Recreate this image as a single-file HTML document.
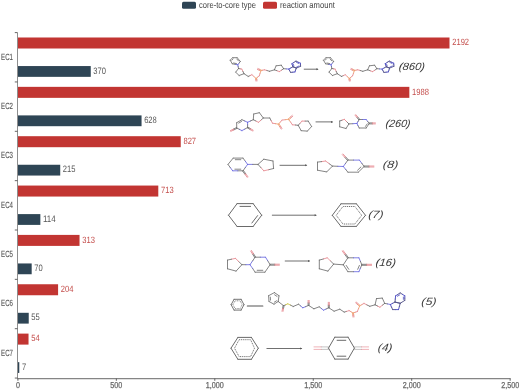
<!DOCTYPE html>
<html><head><meta charset="utf-8"><style>html,body{margin:0;padding:0;background:#fff;overflow:hidden}svg{display:block}</style></head>
<body><svg width="520" height="390" viewBox="0 0 520 390" font-family="'Liberation Sans', sans-serif" font-size="9" text-rendering="geometricPrecision">
<rect width="520" height="390" fill="#fff"/>
<g filter="url(#bt)"><line x1="17.5" y1="32.6" x2="17.5" y2="378.5" stroke="#8e8e8e" stroke-width="1"/>
<line x1="17" y1="378.6" x2="510.6" y2="378.6" stroke="#858585" stroke-width="1.3"/>
<line x1="14.8" y1="32.60" x2="17.5" y2="32.60" stroke="#555" stroke-width="0.9"/>
<line x1="14.8" y1="81.95" x2="17.5" y2="81.95" stroke="#555" stroke-width="0.9"/>
<line x1="14.8" y1="131.30" x2="17.5" y2="131.30" stroke="#555" stroke-width="0.9"/>
<line x1="14.8" y1="180.65" x2="17.5" y2="180.65" stroke="#555" stroke-width="0.9"/>
<line x1="14.8" y1="230.00" x2="17.5" y2="230.00" stroke="#555" stroke-width="0.9"/>
<line x1="14.8" y1="279.35" x2="17.5" y2="279.35" stroke="#555" stroke-width="0.9"/>
<line x1="14.8" y1="328.70" x2="17.5" y2="328.70" stroke="#555" stroke-width="0.9"/>
<line x1="14.8" y1="378.05" x2="17.5" y2="378.05" stroke="#555" stroke-width="0.9"/>
<line x1="17.90" y1="378.5" x2="17.90" y2="380.8" stroke="#555" stroke-width="0.9"/>
<text x="15.90" y="388.4" font-size="8.6" textLength="4.00" lengthAdjust="spacingAndGlyphs" fill="#666" stroke="#666" stroke-width="0.25">0</text>
<line x1="116.35" y1="378.5" x2="116.35" y2="380.8" stroke="#555" stroke-width="0.9"/>
<text x="110.35" y="388.4" font-size="8.6" textLength="12.00" lengthAdjust="spacingAndGlyphs" fill="#666" stroke="#666" stroke-width="0.25">500</text>
<line x1="214.80" y1="378.5" x2="214.80" y2="380.8" stroke="#555" stroke-width="0.9"/>
<text x="205.80" y="388.4" font-size="8.6" textLength="18.00" lengthAdjust="spacingAndGlyphs" fill="#666" stroke="#666" stroke-width="0.25">1,000</text>
<line x1="313.25" y1="378.5" x2="313.25" y2="380.8" stroke="#555" stroke-width="0.9"/>
<text x="304.25" y="388.4" font-size="8.6" textLength="18.00" lengthAdjust="spacingAndGlyphs" fill="#666" stroke="#666" stroke-width="0.25">1,500</text>
<line x1="411.70" y1="378.5" x2="411.70" y2="380.8" stroke="#555" stroke-width="0.9"/>
<text x="402.70" y="388.4" font-size="8.6" textLength="18.00" lengthAdjust="spacingAndGlyphs" fill="#666" stroke="#666" stroke-width="0.25">2,000</text>
<line x1="510.15" y1="378.5" x2="510.15" y2="380.8" stroke="#555" stroke-width="0.9"/>
<text x="501.15" y="388.4" font-size="8.6" textLength="18.00" lengthAdjust="spacingAndGlyphs" fill="#666" stroke="#666" stroke-width="0.25">2,500</text>
<rect x="18" y="37.50" width="431.50" height="11" fill="#c23531"/>
<rect x="18" y="66.05" width="72.75" height="10.8" fill="#2f4554"/>
<text x="452.20" y="45.25" font-size="9.1" textLength="16.88" lengthAdjust="spacingAndGlyphs" fill="#c44e4c">2192</text>
<text x="93.35" y="73.60" font-size="9.4" textLength="12.66" lengthAdjust="spacingAndGlyphs" fill="#555">370</text>
<text x="1.1" y="59.65" font-size="9.0" textLength="11.9" lengthAdjust="spacingAndGlyphs" fill="#555" stroke="#555" stroke-width="0.12">EC1</text>
<rect x="18" y="86.85" width="391.34" height="11" fill="#c23531"/>
<rect x="18" y="115.40" width="123.55" height="10.8" fill="#2f4554"/>
<text x="412.04" y="94.60" font-size="9.1" textLength="16.88" lengthAdjust="spacingAndGlyphs" fill="#c44e4c">1988</text>
<text x="144.15" y="122.95" font-size="9.4" textLength="12.66" lengthAdjust="spacingAndGlyphs" fill="#555">628</text>
<text x="1.1" y="109.00" font-size="9.0" textLength="11.9" lengthAdjust="spacingAndGlyphs" fill="#555" stroke="#555" stroke-width="0.12">EC2</text>
<rect x="18" y="136.20" width="162.74" height="11" fill="#c23531"/>
<rect x="18" y="164.75" width="42.23" height="10.8" fill="#2f4554"/>
<text x="183.44" y="143.95" font-size="9.1" textLength="12.66" lengthAdjust="spacingAndGlyphs" fill="#c44e4c">827</text>
<text x="62.83" y="172.30" font-size="9.4" textLength="12.66" lengthAdjust="spacingAndGlyphs" fill="#555">215</text>
<text x="1.1" y="158.35" font-size="9.0" textLength="11.9" lengthAdjust="spacingAndGlyphs" fill="#555" stroke="#555" stroke-width="0.12">EC3</text>
<rect x="18" y="185.55" width="140.29" height="11" fill="#c23531"/>
<rect x="18" y="214.10" width="22.35" height="10.8" fill="#2f4554"/>
<text x="160.99" y="193.30" font-size="9.1" textLength="12.66" lengthAdjust="spacingAndGlyphs" fill="#c44e4c">713</text>
<text x="42.95" y="221.65" font-size="9.4" textLength="12.66" lengthAdjust="spacingAndGlyphs" fill="#555">114</text>
<text x="1.1" y="207.70" font-size="9.0" textLength="11.9" lengthAdjust="spacingAndGlyphs" fill="#555" stroke="#555" stroke-width="0.12">EC4</text>
<rect x="18" y="234.90" width="61.53" height="11" fill="#c23531"/>
<rect x="18" y="263.45" width="13.68" height="10.8" fill="#2f4554"/>
<text x="82.23" y="242.65" font-size="9.1" textLength="12.66" lengthAdjust="spacingAndGlyphs" fill="#c44e4c">313</text>
<text x="34.28" y="271.00" font-size="9.4" textLength="8.44" lengthAdjust="spacingAndGlyphs" fill="#555">70</text>
<text x="1.1" y="257.05" font-size="9.0" textLength="11.9" lengthAdjust="spacingAndGlyphs" fill="#555" stroke="#555" stroke-width="0.12">EC5</text>
<rect x="18" y="284.25" width="40.07" height="11" fill="#c23531"/>
<rect x="18" y="312.80" width="10.73" height="10.8" fill="#2f4554"/>
<text x="60.77" y="292.00" font-size="9.1" textLength="12.66" lengthAdjust="spacingAndGlyphs" fill="#c44e4c">204</text>
<text x="31.33" y="320.35" font-size="9.4" textLength="8.44" lengthAdjust="spacingAndGlyphs" fill="#555">55</text>
<text x="1.1" y="306.40" font-size="9.0" textLength="11.9" lengthAdjust="spacingAndGlyphs" fill="#555" stroke="#555" stroke-width="0.12">EC6</text>
<rect x="18" y="333.60" width="10.53" height="11" fill="#c23531"/>
<rect x="18" y="362.15" width="1.28" height="10.8" fill="#2f4554"/>
<text x="31.23" y="341.35" font-size="9.1" textLength="8.44" lengthAdjust="spacingAndGlyphs" fill="#c44e4c">54</text>
<text x="21.88" y="369.70" font-size="9.4" textLength="4.22" lengthAdjust="spacingAndGlyphs" fill="#555">7</text>
<text x="1.1" y="355.75" font-size="9.0" textLength="11.9" lengthAdjust="spacingAndGlyphs" fill="#555" stroke="#555" stroke-width="0.12">EC7</text>
<rect x="182" y="1.7" width="14" height="7.0" rx="1.5" fill="#2f4554"/>
<text x="199" y="7.6" textLength="57" lengthAdjust="spacingAndGlyphs" fill="#444">core-to-core type</text>
<rect x="263" y="1.7" width="14" height="7.0" rx="1.5" fill="#c23531"/>
<text x="280" y="7.6" textLength="54.8" lengthAdjust="spacingAndGlyphs" fill="#444">reaction amount</text></g>
<defs><filter id="bt" x="0" y="0" width="100%" height="100%" filterUnits="userSpaceOnUse"><feGaussianBlur stdDeviation="0.25"/></filter><filter id="bl" x="-5%" y="-5%" width="110%" height="110%"><feGaussianBlur stdDeviation="0.3"/></filter></defs>
<g filter="url(#bl)"><line x1="230.2" y1="60.2" x2="232.6" y2="57.7" stroke="#666666" stroke-width="0.8" stroke-linecap="round"/>
<line x1="232.6" y1="57.7" x2="237.2" y2="57.7" stroke="#666666" stroke-width="0.8" stroke-linecap="round"/>
<line x1="237.2" y1="57.7" x2="240.3" y2="61.4" stroke="#666666" stroke-width="0.8" stroke-linecap="round"/>
<line x1="240.3" y1="61.4" x2="239.1" y2="63.1" stroke="#666666" stroke-width="0.8" stroke-linecap="round"/>
<line x1="239.1" y1="63.1" x2="237.8" y2="64.8" stroke="#6060dd" stroke-width="0.8" stroke-linecap="round"/>
<line x1="237.8" y1="64.8" x2="235.1" y2="64.3" stroke="#6060dd" stroke-width="0.8" stroke-linecap="round"/>
<line x1="235.1" y1="64.3" x2="232.3" y2="63.8" stroke="#666666" stroke-width="0.8" stroke-linecap="round"/>
<line x1="232.3" y1="63.8" x2="230.2" y2="60.2" stroke="#666666" stroke-width="0.8" stroke-linecap="round"/>
<line x1="231.9" y1="60.2" x2="233.1" y2="58.9" stroke="#666666" stroke-width="0.8" stroke-linecap="round"/>
<line x1="236.8" y1="59.0" x2="238.5" y2="60.9" stroke="#666666" stroke-width="0.8" stroke-linecap="round"/>
<line x1="236.5" y1="63.6" x2="233.6" y2="63.0" stroke="#666666" stroke-width="0.8" stroke-linecap="round"/>
<line x1="237.8" y1="64.8" x2="238.2" y2="66.7" stroke="#6060dd" stroke-width="0.8" stroke-linecap="round"/>
<line x1="238.2" y1="66.7" x2="238.5" y2="68.5" stroke="#666666" stroke-width="0.8" stroke-linecap="round"/>
<line x1="238.5" y1="68.5" x2="240.2" y2="68.8" stroke="#666666" stroke-width="0.8" stroke-linecap="round"/>
<line x1="240.2" y1="68.8" x2="241.8" y2="69.1" stroke="#e48088" stroke-width="0.8" stroke-linecap="round"/>
<line x1="241.8" y1="69.1" x2="242.9" y2="71.4" stroke="#e48088" stroke-width="0.8" stroke-linecap="round"/>
<line x1="242.9" y1="71.4" x2="244.0" y2="73.7" stroke="#666666" stroke-width="0.8" stroke-linecap="round"/>
<line x1="244.0" y1="73.7" x2="239.1" y2="75.5" stroke="#666666" stroke-width="0.8" stroke-linecap="round"/>
<line x1="239.1" y1="75.5" x2="235.7" y2="72.2" stroke="#666666" stroke-width="0.8" stroke-linecap="round"/>
<line x1="235.7" y1="72.2" x2="238.5" y2="68.5" stroke="#666666" stroke-width="0.8" stroke-linecap="round"/>
<line x1="244.0" y1="73.7" x2="248.2" y2="76.4" stroke="#666666" stroke-width="0.8" stroke-linecap="round"/>
<line x1="248.2" y1="76.4" x2="250.1" y2="75.6" stroke="#666666" stroke-width="0.8" stroke-linecap="round"/>
<line x1="250.1" y1="75.6" x2="251.9" y2="74.7" stroke="#e48088" stroke-width="0.8" stroke-linecap="round"/>
<line x1="251.9" y1="74.7" x2="254.0" y2="76.6" stroke="#e48088" stroke-width="0.8" stroke-linecap="round"/>
<line x1="254.0" y1="76.6" x2="256.1" y2="78.4" stroke="#ee9a6a" stroke-width="0.8" stroke-linecap="round"/>
<line x1="255.6" y1="78.5" x2="255.8" y2="79.8" stroke="#ee9a6a" stroke-width="0.8" stroke-linecap="round"/>
<line x1="255.8" y1="79.8" x2="256.0" y2="81.1" stroke="#e48088" stroke-width="0.8" stroke-linecap="round"/>
<line x1="256.6" y1="78.3" x2="256.8" y2="79.6" stroke="#ee9a6a" stroke-width="0.8" stroke-linecap="round"/>
<line x1="256.8" y1="79.6" x2="257.0" y2="80.9" stroke="#e48088" stroke-width="0.8" stroke-linecap="round"/>
<line x1="256.1" y1="78.4" x2="257.7" y2="77.1" stroke="#ee9a6a" stroke-width="0.8" stroke-linecap="round"/>
<line x1="257.7" y1="77.1" x2="259.3" y2="75.8" stroke="#e48088" stroke-width="0.8" stroke-linecap="round"/>
<line x1="259.3" y1="75.8" x2="260.1" y2="73.2" stroke="#e48088" stroke-width="0.8" stroke-linecap="round"/>
<line x1="260.1" y1="73.2" x2="261.0" y2="70.5" stroke="#ee9a6a" stroke-width="0.8" stroke-linecap="round"/>
<line x1="261.2" y1="70.0" x2="259.5" y2="69.3" stroke="#ee9a6a" stroke-width="0.8" stroke-linecap="round"/>
<line x1="259.5" y1="69.3" x2="257.8" y2="68.5" stroke="#e48088" stroke-width="0.8" stroke-linecap="round"/>
<line x1="260.8" y1="71.0" x2="259.1" y2="70.2" stroke="#ee9a6a" stroke-width="0.8" stroke-linecap="round"/>
<line x1="259.1" y1="70.2" x2="257.4" y2="69.5" stroke="#e48088" stroke-width="0.8" stroke-linecap="round"/>
<line x1="261.0" y1="70.5" x2="262.7" y2="70.2" stroke="#ee9a6a" stroke-width="0.8" stroke-linecap="round"/>
<line x1="262.7" y1="70.2" x2="264.4" y2="69.8" stroke="#e48088" stroke-width="0.8" stroke-linecap="round"/>
<line x1="264.4" y1="69.8" x2="266.9" y2="70.5" stroke="#e48088" stroke-width="0.8" stroke-linecap="round"/>
<line x1="266.9" y1="70.5" x2="269.5" y2="71.3" stroke="#666666" stroke-width="0.8" stroke-linecap="round"/>
<line x1="269.5" y1="71.3" x2="274.4" y2="69.8" stroke="#666666" stroke-width="0.8" stroke-linecap="round"/>
<line x1="274.4" y1="69.8" x2="276.1" y2="65.8" stroke="#666666" stroke-width="0.8" stroke-linecap="round"/>
<line x1="276.1" y1="65.8" x2="281.3" y2="65.2" stroke="#666666" stroke-width="0.8" stroke-linecap="round"/>
<line x1="281.3" y1="65.2" x2="283.6" y2="68.7" stroke="#666666" stroke-width="0.8" stroke-linecap="round"/>
<line x1="283.6" y1="68.7" x2="281.5" y2="70.2" stroke="#666666" stroke-width="0.8" stroke-linecap="round"/>
<line x1="281.5" y1="70.2" x2="279.3" y2="71.6" stroke="#e48088" stroke-width="0.8" stroke-linecap="round"/>
<line x1="279.3" y1="71.6" x2="276.9" y2="70.7" stroke="#e48088" stroke-width="0.8" stroke-linecap="round"/>
<line x1="276.9" y1="70.7" x2="274.4" y2="69.8" stroke="#666666" stroke-width="0.8" stroke-linecap="round"/>
<line x1="283.6" y1="68.7" x2="286.2" y2="68.9" stroke="#666666" stroke-width="0.8" stroke-linecap="round"/>
<line x1="286.2" y1="68.9" x2="288.8" y2="69.1" stroke="#6060dd" stroke-width="0.8" stroke-linecap="round"/>
<line x1="291.9" y1="63.7" x2="293.9" y2="62.4" stroke="#4f4fc4" stroke-width="0.95" stroke-linecap="round"/>
<line x1="293.9" y1="62.4" x2="296.0" y2="61.1" stroke="#55558a" stroke-width="0.95" stroke-linecap="round"/>
<line x1="296.0" y1="61.1" x2="298.2" y2="62.2" stroke="#55558a" stroke-width="0.95" stroke-linecap="round"/>
<line x1="298.2" y1="62.2" x2="300.4" y2="63.2" stroke="#4f4fc4" stroke-width="0.95" stroke-linecap="round"/>
<line x1="300.4" y1="63.2" x2="300.5" y2="64.8" stroke="#4f4fc4" stroke-width="0.95" stroke-linecap="round"/>
<line x1="300.5" y1="64.8" x2="300.6" y2="66.3" stroke="#55558a" stroke-width="0.95" stroke-linecap="round"/>
<line x1="300.6" y1="66.3" x2="296.3" y2="68.1" stroke="#55558a" stroke-width="0.95" stroke-linecap="round"/>
<line x1="296.3" y1="68.1" x2="293.0" y2="66.8" stroke="#55558a" stroke-width="0.95" stroke-linecap="round"/>
<line x1="293.0" y1="66.8" x2="292.4" y2="65.2" stroke="#55558a" stroke-width="0.95" stroke-linecap="round"/>
<line x1="292.4" y1="65.2" x2="291.9" y2="63.7" stroke="#4f4fc4" stroke-width="0.95" stroke-linecap="round"/>
<line x1="296.5" y1="62.4" x2="298.8" y2="63.5" stroke="#4f4fc4" stroke-width="0.8" stroke-linecap="round"/>
<line x1="299.0" y1="66.0" x2="296.7" y2="67.0" stroke="#4f4fc4" stroke-width="0.8" stroke-linecap="round"/>
<line x1="293.9" y1="66.0" x2="293.3" y2="64.3" stroke="#4f4fc4" stroke-width="0.8" stroke-linecap="round"/>
<line x1="288.8" y1="69.1" x2="289.7" y2="70.8" stroke="#4f4fc4" stroke-width="0.95" stroke-linecap="round"/>
<line x1="289.7" y1="70.8" x2="290.6" y2="72.4" stroke="#55558a" stroke-width="0.95" stroke-linecap="round"/>
<line x1="290.6" y1="72.4" x2="292.8" y2="72.2" stroke="#55558a" stroke-width="0.95" stroke-linecap="round"/>
<line x1="292.8" y1="72.2" x2="295.0" y2="71.9" stroke="#4f4fc4" stroke-width="0.95" stroke-linecap="round"/>
<line x1="295.0" y1="71.9" x2="295.6" y2="70.0" stroke="#4f4fc4" stroke-width="0.95" stroke-linecap="round"/>
<line x1="295.6" y1="70.0" x2="296.3" y2="68.1" stroke="#55558a" stroke-width="0.95" stroke-linecap="round"/>
<line x1="296.3" y1="68.1" x2="293.0" y2="66.8" stroke="#55558a" stroke-width="0.95" stroke-linecap="round"/>
<line x1="293.0" y1="66.8" x2="290.9" y2="67.9" stroke="#55558a" stroke-width="0.95" stroke-linecap="round"/>
<line x1="290.9" y1="67.9" x2="288.8" y2="69.1" stroke="#4f4fc4" stroke-width="0.95" stroke-linecap="round"/>
<line x1="304.2" y1="69.2" x2="317.6" y2="69.2" stroke="#555" stroke-width="0.85" stroke-linecap="round"/>
<path d="M318.6,69.2 L316.4,68.2 L316.4,70.2 Z" fill="#555"/>
<line x1="323.5" y1="60.2" x2="325.9" y2="57.7" stroke="#666666" stroke-width="0.8" stroke-linecap="round"/>
<line x1="325.9" y1="57.7" x2="330.5" y2="57.7" stroke="#666666" stroke-width="0.8" stroke-linecap="round"/>
<line x1="330.5" y1="57.7" x2="333.6" y2="61.4" stroke="#666666" stroke-width="0.8" stroke-linecap="round"/>
<line x1="333.6" y1="61.4" x2="332.4" y2="63.1" stroke="#666666" stroke-width="0.8" stroke-linecap="round"/>
<line x1="332.4" y1="63.1" x2="331.1" y2="64.8" stroke="#6060dd" stroke-width="0.8" stroke-linecap="round"/>
<line x1="331.1" y1="64.8" x2="328.4" y2="64.3" stroke="#6060dd" stroke-width="0.8" stroke-linecap="round"/>
<line x1="328.4" y1="64.3" x2="325.6" y2="63.8" stroke="#666666" stroke-width="0.8" stroke-linecap="round"/>
<line x1="325.6" y1="63.8" x2="323.5" y2="60.2" stroke="#666666" stroke-width="0.8" stroke-linecap="round"/>
<line x1="325.2" y1="60.2" x2="326.4" y2="58.9" stroke="#666666" stroke-width="0.8" stroke-linecap="round"/>
<line x1="330.1" y1="59.0" x2="331.8" y2="60.9" stroke="#666666" stroke-width="0.8" stroke-linecap="round"/>
<line x1="329.8" y1="63.6" x2="326.9" y2="63.0" stroke="#666666" stroke-width="0.8" stroke-linecap="round"/>
<line x1="331.1" y1="64.8" x2="331.5" y2="66.7" stroke="#6060dd" stroke-width="0.8" stroke-linecap="round"/>
<line x1="331.5" y1="66.7" x2="331.8" y2="68.5" stroke="#666666" stroke-width="0.8" stroke-linecap="round"/>
<line x1="331.8" y1="68.5" x2="333.5" y2="68.8" stroke="#666666" stroke-width="0.8" stroke-linecap="round"/>
<line x1="333.5" y1="68.8" x2="335.1" y2="69.1" stroke="#e48088" stroke-width="0.8" stroke-linecap="round"/>
<line x1="335.1" y1="69.1" x2="336.2" y2="71.4" stroke="#e48088" stroke-width="0.8" stroke-linecap="round"/>
<line x1="336.2" y1="71.4" x2="337.3" y2="73.7" stroke="#666666" stroke-width="0.8" stroke-linecap="round"/>
<line x1="337.3" y1="73.7" x2="332.4" y2="75.5" stroke="#666666" stroke-width="0.8" stroke-linecap="round"/>
<line x1="332.4" y1="75.5" x2="329.0" y2="72.2" stroke="#666666" stroke-width="0.8" stroke-linecap="round"/>
<line x1="329.0" y1="72.2" x2="331.8" y2="68.5" stroke="#666666" stroke-width="0.8" stroke-linecap="round"/>
<line x1="337.3" y1="73.7" x2="341.5" y2="76.4" stroke="#666666" stroke-width="0.8" stroke-linecap="round"/>
<line x1="341.5" y1="76.4" x2="343.4" y2="75.6" stroke="#666666" stroke-width="0.8" stroke-linecap="round"/>
<line x1="343.4" y1="75.6" x2="345.2" y2="74.7" stroke="#e48088" stroke-width="0.8" stroke-linecap="round"/>
<line x1="345.2" y1="74.7" x2="347.3" y2="76.6" stroke="#e48088" stroke-width="0.8" stroke-linecap="round"/>
<line x1="347.3" y1="76.6" x2="349.4" y2="78.4" stroke="#ee9a6a" stroke-width="0.8" stroke-linecap="round"/>
<line x1="348.9" y1="78.5" x2="349.1" y2="79.8" stroke="#ee9a6a" stroke-width="0.8" stroke-linecap="round"/>
<line x1="349.1" y1="79.8" x2="349.3" y2="81.1" stroke="#e48088" stroke-width="0.8" stroke-linecap="round"/>
<line x1="349.9" y1="78.3" x2="350.1" y2="79.6" stroke="#ee9a6a" stroke-width="0.8" stroke-linecap="round"/>
<line x1="350.1" y1="79.6" x2="350.3" y2="80.9" stroke="#e48088" stroke-width="0.8" stroke-linecap="round"/>
<line x1="349.4" y1="78.4" x2="351.0" y2="77.1" stroke="#ee9a6a" stroke-width="0.8" stroke-linecap="round"/>
<line x1="351.0" y1="77.1" x2="352.6" y2="75.8" stroke="#e48088" stroke-width="0.8" stroke-linecap="round"/>
<line x1="352.6" y1="75.8" x2="353.5" y2="73.2" stroke="#e48088" stroke-width="0.8" stroke-linecap="round"/>
<line x1="353.5" y1="73.2" x2="354.3" y2="70.5" stroke="#ee9a6a" stroke-width="0.8" stroke-linecap="round"/>
<line x1="354.5" y1="70.0" x2="352.8" y2="69.3" stroke="#ee9a6a" stroke-width="0.8" stroke-linecap="round"/>
<line x1="352.8" y1="69.3" x2="351.1" y2="68.5" stroke="#e48088" stroke-width="0.8" stroke-linecap="round"/>
<line x1="354.1" y1="71.0" x2="352.4" y2="70.2" stroke="#ee9a6a" stroke-width="0.8" stroke-linecap="round"/>
<line x1="352.4" y1="70.2" x2="350.7" y2="69.5" stroke="#e48088" stroke-width="0.8" stroke-linecap="round"/>
<line x1="354.3" y1="70.5" x2="356.0" y2="70.2" stroke="#ee9a6a" stroke-width="0.8" stroke-linecap="round"/>
<line x1="356.0" y1="70.2" x2="357.7" y2="69.8" stroke="#e48088" stroke-width="0.8" stroke-linecap="round"/>
<line x1="357.7" y1="69.8" x2="360.2" y2="70.5" stroke="#e48088" stroke-width="0.8" stroke-linecap="round"/>
<line x1="360.2" y1="70.5" x2="362.8" y2="71.3" stroke="#666666" stroke-width="0.8" stroke-linecap="round"/>
<line x1="362.8" y1="71.3" x2="367.7" y2="69.8" stroke="#666666" stroke-width="0.8" stroke-linecap="round"/>
<line x1="367.7" y1="69.8" x2="369.4" y2="65.8" stroke="#666666" stroke-width="0.8" stroke-linecap="round"/>
<line x1="369.4" y1="65.8" x2="374.6" y2="65.2" stroke="#666666" stroke-width="0.8" stroke-linecap="round"/>
<line x1="374.6" y1="65.2" x2="376.9" y2="68.7" stroke="#666666" stroke-width="0.8" stroke-linecap="round"/>
<line x1="376.9" y1="68.7" x2="374.8" y2="70.2" stroke="#666666" stroke-width="0.8" stroke-linecap="round"/>
<line x1="374.8" y1="70.2" x2="372.6" y2="71.6" stroke="#e48088" stroke-width="0.8" stroke-linecap="round"/>
<line x1="372.6" y1="71.6" x2="370.1" y2="70.7" stroke="#e48088" stroke-width="0.8" stroke-linecap="round"/>
<line x1="370.1" y1="70.7" x2="367.7" y2="69.8" stroke="#666666" stroke-width="0.8" stroke-linecap="round"/>
<line x1="376.9" y1="68.7" x2="379.5" y2="68.9" stroke="#666666" stroke-width="0.8" stroke-linecap="round"/>
<line x1="379.5" y1="68.9" x2="382.1" y2="69.1" stroke="#6060dd" stroke-width="0.8" stroke-linecap="round"/>
<line x1="385.2" y1="63.7" x2="387.2" y2="62.4" stroke="#4f4fc4" stroke-width="0.95" stroke-linecap="round"/>
<line x1="387.2" y1="62.4" x2="389.3" y2="61.1" stroke="#55558a" stroke-width="0.95" stroke-linecap="round"/>
<line x1="389.3" y1="61.1" x2="391.5" y2="62.2" stroke="#55558a" stroke-width="0.95" stroke-linecap="round"/>
<line x1="391.5" y1="62.2" x2="393.7" y2="63.2" stroke="#4f4fc4" stroke-width="0.95" stroke-linecap="round"/>
<line x1="393.7" y1="63.2" x2="393.8" y2="64.8" stroke="#4f4fc4" stroke-width="0.95" stroke-linecap="round"/>
<line x1="393.8" y1="64.8" x2="393.9" y2="66.3" stroke="#55558a" stroke-width="0.95" stroke-linecap="round"/>
<line x1="393.9" y1="66.3" x2="389.6" y2="68.1" stroke="#55558a" stroke-width="0.95" stroke-linecap="round"/>
<line x1="389.6" y1="68.1" x2="386.3" y2="66.8" stroke="#55558a" stroke-width="0.95" stroke-linecap="round"/>
<line x1="386.3" y1="66.8" x2="385.8" y2="65.2" stroke="#55558a" stroke-width="0.95" stroke-linecap="round"/>
<line x1="385.8" y1="65.2" x2="385.2" y2="63.7" stroke="#4f4fc4" stroke-width="0.95" stroke-linecap="round"/>
<line x1="389.8" y1="62.4" x2="392.1" y2="63.5" stroke="#4f4fc4" stroke-width="0.8" stroke-linecap="round"/>
<line x1="392.3" y1="66.0" x2="390.0" y2="67.0" stroke="#4f4fc4" stroke-width="0.8" stroke-linecap="round"/>
<line x1="387.2" y1="66.0" x2="386.6" y2="64.3" stroke="#4f4fc4" stroke-width="0.8" stroke-linecap="round"/>
<line x1="382.1" y1="69.1" x2="383.0" y2="70.8" stroke="#4f4fc4" stroke-width="0.95" stroke-linecap="round"/>
<line x1="383.0" y1="70.8" x2="383.9" y2="72.4" stroke="#55558a" stroke-width="0.95" stroke-linecap="round"/>
<line x1="383.9" y1="72.4" x2="386.1" y2="72.2" stroke="#55558a" stroke-width="0.95" stroke-linecap="round"/>
<line x1="386.1" y1="72.2" x2="388.3" y2="71.9" stroke="#4f4fc4" stroke-width="0.95" stroke-linecap="round"/>
<line x1="388.3" y1="71.9" x2="389.0" y2="70.0" stroke="#4f4fc4" stroke-width="0.95" stroke-linecap="round"/>
<line x1="389.0" y1="70.0" x2="389.6" y2="68.1" stroke="#55558a" stroke-width="0.95" stroke-linecap="round"/>
<line x1="389.6" y1="68.1" x2="386.3" y2="66.8" stroke="#55558a" stroke-width="0.95" stroke-linecap="round"/>
<line x1="386.3" y1="66.8" x2="384.2" y2="67.9" stroke="#55558a" stroke-width="0.95" stroke-linecap="round"/>
<line x1="384.2" y1="67.9" x2="382.1" y2="69.1" stroke="#4f4fc4" stroke-width="0.95" stroke-linecap="round"/>
<line x1="241.9" y1="119.7" x2="244.8" y2="121.0" stroke="#666666" stroke-width="0.8" stroke-linecap="round"/>
<line x1="244.8" y1="121.0" x2="247.6" y2="122.3" stroke="#6060dd" stroke-width="0.8" stroke-linecap="round"/>
<line x1="247.6" y1="122.3" x2="247.6" y2="124.9" stroke="#6060dd" stroke-width="0.8" stroke-linecap="round"/>
<line x1="247.6" y1="124.9" x2="247.6" y2="127.5" stroke="#666666" stroke-width="0.8" stroke-linecap="round"/>
<line x1="247.6" y1="127.5" x2="244.8" y2="129.1" stroke="#666666" stroke-width="0.8" stroke-linecap="round"/>
<line x1="244.8" y1="129.1" x2="241.9" y2="130.6" stroke="#6060dd" stroke-width="0.8" stroke-linecap="round"/>
<line x1="241.9" y1="130.6" x2="239.3" y2="129.3" stroke="#6060dd" stroke-width="0.8" stroke-linecap="round"/>
<line x1="239.3" y1="129.3" x2="236.7" y2="128.0" stroke="#666666" stroke-width="0.8" stroke-linecap="round"/>
<line x1="236.7" y1="128.0" x2="236.7" y2="122.7" stroke="#666666" stroke-width="0.8" stroke-linecap="round"/>
<line x1="236.7" y1="122.7" x2="241.9" y2="119.7" stroke="#666666" stroke-width="0.8" stroke-linecap="round"/>
<line x1="238.7" y1="123.1" x2="241.5" y2="121.5" stroke="#666666" stroke-width="0.8" stroke-linecap="round"/>
<line x1="236.5" y1="127.6" x2="233.4" y2="129.1" stroke="#666666" stroke-width="0.8" stroke-linecap="round"/>
<line x1="233.4" y1="129.1" x2="230.4" y2="130.6" stroke="#e48088" stroke-width="0.8" stroke-linecap="round"/>
<line x1="236.9" y1="128.4" x2="233.9" y2="129.9" stroke="#666666" stroke-width="0.8" stroke-linecap="round"/>
<line x1="233.9" y1="129.9" x2="230.8" y2="131.4" stroke="#e48088" stroke-width="0.8" stroke-linecap="round"/>
<line x1="247.4" y1="127.9" x2="250.1" y2="129.5" stroke="#666666" stroke-width="0.8" stroke-linecap="round"/>
<line x1="250.1" y1="129.5" x2="252.8" y2="131.0" stroke="#e48088" stroke-width="0.8" stroke-linecap="round"/>
<line x1="247.8" y1="127.1" x2="250.5" y2="128.6" stroke="#666666" stroke-width="0.8" stroke-linecap="round"/>
<line x1="250.5" y1="128.6" x2="253.2" y2="130.2" stroke="#e48088" stroke-width="0.8" stroke-linecap="round"/>
<line x1="247.6" y1="122.3" x2="250.4" y2="121.0" stroke="#6060dd" stroke-width="0.8" stroke-linecap="round"/>
<line x1="250.4" y1="121.0" x2="253.3" y2="119.7" stroke="#666666" stroke-width="0.8" stroke-linecap="round"/>
<line x1="253.3" y1="119.7" x2="253.7" y2="114.0" stroke="#666666" stroke-width="0.8" stroke-linecap="round"/>
<line x1="253.7" y1="114.0" x2="259.4" y2="112.7" stroke="#666666" stroke-width="0.8" stroke-linecap="round"/>
<line x1="259.4" y1="112.7" x2="263.3" y2="118.0" stroke="#666666" stroke-width="0.8" stroke-linecap="round"/>
<line x1="263.3" y1="118.0" x2="260.9" y2="120.2" stroke="#666666" stroke-width="0.8" stroke-linecap="round"/>
<line x1="260.9" y1="120.2" x2="258.5" y2="122.3" stroke="#e48088" stroke-width="0.8" stroke-linecap="round"/>
<line x1="258.5" y1="122.3" x2="255.9" y2="121.0" stroke="#e48088" stroke-width="0.8" stroke-linecap="round"/>
<line x1="255.9" y1="121.0" x2="253.3" y2="119.7" stroke="#666666" stroke-width="0.8" stroke-linecap="round"/>
<line x1="263.3" y1="118.0" x2="269.8" y2="118.0" stroke="#666666" stroke-width="0.8" stroke-linecap="round"/>
<line x1="269.8" y1="118.0" x2="271.1" y2="120.6" stroke="#666666" stroke-width="0.8" stroke-linecap="round"/>
<line x1="271.1" y1="120.6" x2="272.5" y2="123.2" stroke="#e48088" stroke-width="0.8" stroke-linecap="round"/>
<line x1="272.5" y1="123.2" x2="275.6" y2="123.7" stroke="#e48088" stroke-width="0.8" stroke-linecap="round"/>
<line x1="275.6" y1="123.7" x2="278.6" y2="124.1" stroke="#ee9a6a" stroke-width="0.8" stroke-linecap="round"/>
<line x1="278.2" y1="124.4" x2="279.7" y2="126.7" stroke="#ee9a6a" stroke-width="0.8" stroke-linecap="round"/>
<line x1="279.7" y1="126.7" x2="281.2" y2="129.1" stroke="#e48088" stroke-width="0.8" stroke-linecap="round"/>
<line x1="279.0" y1="123.8" x2="280.5" y2="126.2" stroke="#ee9a6a" stroke-width="0.8" stroke-linecap="round"/>
<line x1="280.5" y1="126.2" x2="282.0" y2="128.5" stroke="#e48088" stroke-width="0.8" stroke-linecap="round"/>
<line x1="278.6" y1="124.1" x2="280.3" y2="122.1" stroke="#ee9a6a" stroke-width="0.8" stroke-linecap="round"/>
<line x1="280.3" y1="122.1" x2="282.0" y2="120.1" stroke="#e48088" stroke-width="0.8" stroke-linecap="round"/>
<line x1="282.0" y1="120.1" x2="285.3" y2="119.7" stroke="#e48088" stroke-width="0.8" stroke-linecap="round"/>
<line x1="285.3" y1="119.7" x2="288.6" y2="119.3" stroke="#ee9a6a" stroke-width="0.8" stroke-linecap="round"/>
<line x1="288.9" y1="119.7" x2="290.9" y2="117.9" stroke="#ee9a6a" stroke-width="0.8" stroke-linecap="round"/>
<line x1="290.9" y1="117.9" x2="292.8" y2="116.2" stroke="#e48088" stroke-width="0.8" stroke-linecap="round"/>
<line x1="288.3" y1="118.9" x2="290.2" y2="117.2" stroke="#ee9a6a" stroke-width="0.8" stroke-linecap="round"/>
<line x1="290.2" y1="117.2" x2="292.2" y2="115.4" stroke="#e48088" stroke-width="0.8" stroke-linecap="round"/>
<line x1="288.6" y1="119.3" x2="290.5" y2="122.0" stroke="#ee9a6a" stroke-width="0.8" stroke-linecap="round"/>
<line x1="290.5" y1="122.0" x2="292.4" y2="124.8" stroke="#e48088" stroke-width="0.8" stroke-linecap="round"/>
<line x1="292.4" y1="124.8" x2="295.3" y2="125.0" stroke="#e48088" stroke-width="0.8" stroke-linecap="round"/>
<line x1="295.3" y1="125.0" x2="298.2" y2="125.3" stroke="#666666" stroke-width="0.8" stroke-linecap="round"/>
<line x1="298.2" y1="125.3" x2="300.1" y2="123.2" stroke="#666666" stroke-width="0.8" stroke-linecap="round"/>
<line x1="300.1" y1="123.2" x2="302.0" y2="121.1" stroke="#e48088" stroke-width="0.8" stroke-linecap="round"/>
<line x1="302.0" y1="121.1" x2="305.1" y2="121.1" stroke="#e48088" stroke-width="0.8" stroke-linecap="round"/>
<line x1="305.1" y1="121.1" x2="308.2" y2="121.1" stroke="#666666" stroke-width="0.8" stroke-linecap="round"/>
<line x1="308.2" y1="121.1" x2="311.6" y2="126.5" stroke="#666666" stroke-width="0.8" stroke-linecap="round"/>
<line x1="311.6" y1="126.5" x2="307.4" y2="131.1" stroke="#666666" stroke-width="0.8" stroke-linecap="round"/>
<line x1="307.4" y1="131.1" x2="301.2" y2="130.7" stroke="#666666" stroke-width="0.8" stroke-linecap="round"/>
<line x1="301.2" y1="130.7" x2="298.2" y2="125.3" stroke="#666666" stroke-width="0.8" stroke-linecap="round"/>
<line x1="316.0" y1="121.9" x2="332.2" y2="121.9" stroke="#555" stroke-width="0.85" stroke-linecap="round"/>
<path d="M333.2,121.9 L331.0,120.9 L331.0,122.9 Z" fill="#555"/>
<line x1="344.3" y1="119.3" x2="342.0" y2="120.2" stroke="#e48088" stroke-width="0.8" stroke-linecap="round"/>
<line x1="342.0" y1="120.2" x2="339.7" y2="121.0" stroke="#666666" stroke-width="0.8" stroke-linecap="round"/>
<line x1="339.7" y1="121.0" x2="339.7" y2="126.8" stroke="#666666" stroke-width="0.8" stroke-linecap="round"/>
<line x1="339.7" y1="126.8" x2="346.0" y2="128.5" stroke="#666666" stroke-width="0.8" stroke-linecap="round"/>
<line x1="346.0" y1="128.5" x2="348.9" y2="123.9" stroke="#666666" stroke-width="0.8" stroke-linecap="round"/>
<line x1="348.9" y1="123.9" x2="346.6" y2="121.6" stroke="#666666" stroke-width="0.8" stroke-linecap="round"/>
<line x1="346.6" y1="121.6" x2="344.3" y2="119.3" stroke="#e48088" stroke-width="0.8" stroke-linecap="round"/>
<line x1="348.9" y1="123.9" x2="352.9" y2="123.7" stroke="#666666" stroke-width="0.8" stroke-linecap="round"/>
<line x1="352.9" y1="123.7" x2="356.9" y2="123.4" stroke="#6060dd" stroke-width="0.8" stroke-linecap="round"/>
<line x1="356.9" y1="123.4" x2="358.0" y2="121.5" stroke="#6060dd" stroke-width="0.8" stroke-linecap="round"/>
<line x1="358.0" y1="121.5" x2="359.2" y2="119.5" stroke="#666666" stroke-width="0.8" stroke-linecap="round"/>
<line x1="359.2" y1="119.5" x2="362.7" y2="119.5" stroke="#666666" stroke-width="0.8" stroke-linecap="round"/>
<line x1="362.7" y1="119.5" x2="366.2" y2="119.5" stroke="#6060dd" stroke-width="0.8" stroke-linecap="round"/>
<line x1="366.2" y1="119.5" x2="367.7" y2="121.5" stroke="#6060dd" stroke-width="0.8" stroke-linecap="round"/>
<line x1="367.7" y1="121.5" x2="369.2" y2="123.4" stroke="#666666" stroke-width="0.8" stroke-linecap="round"/>
<line x1="369.2" y1="123.4" x2="366.2" y2="128.0" stroke="#666666" stroke-width="0.8" stroke-linecap="round"/>
<line x1="366.2" y1="128.0" x2="359.2" y2="128.0" stroke="#666666" stroke-width="0.8" stroke-linecap="round"/>
<line x1="359.2" y1="128.0" x2="358.0" y2="125.7" stroke="#666666" stroke-width="0.8" stroke-linecap="round"/>
<line x1="358.0" y1="125.7" x2="356.9" y2="123.4" stroke="#6060dd" stroke-width="0.8" stroke-linecap="round"/>
<line x1="367.2" y1="123.9" x2="365.5" y2="126.4" stroke="#666666" stroke-width="0.8" stroke-linecap="round"/>
<line x1="359.6" y1="119.2" x2="357.7" y2="116.9" stroke="#666666" stroke-width="0.8" stroke-linecap="round"/>
<line x1="357.7" y1="116.9" x2="355.8" y2="114.6" stroke="#e48088" stroke-width="0.8" stroke-linecap="round"/>
<line x1="358.8" y1="119.8" x2="356.9" y2="117.5" stroke="#666666" stroke-width="0.8" stroke-linecap="round"/>
<line x1="356.9" y1="117.5" x2="355.0" y2="115.2" stroke="#e48088" stroke-width="0.8" stroke-linecap="round"/>
<line x1="369.2" y1="123.9" x2="372.3" y2="123.9" stroke="#666666" stroke-width="0.8" stroke-linecap="round"/>
<line x1="372.3" y1="123.9" x2="375.4" y2="123.9" stroke="#e48088" stroke-width="0.8" stroke-linecap="round"/>
<line x1="369.2" y1="122.9" x2="372.3" y2="122.9" stroke="#666666" stroke-width="0.8" stroke-linecap="round"/>
<line x1="372.3" y1="122.9" x2="375.4" y2="122.9" stroke="#e48088" stroke-width="0.8" stroke-linecap="round"/>
<line x1="228.0" y1="164.4" x2="233.2" y2="158.1" stroke="#666666" stroke-width="0.8" stroke-linecap="round"/>
<line x1="233.2" y1="158.1" x2="243.0" y2="158.1" stroke="#666666" stroke-width="0.8" stroke-linecap="round"/>
<line x1="243.0" y1="158.1" x2="245.3" y2="161.2" stroke="#666666" stroke-width="0.8" stroke-linecap="round"/>
<line x1="245.3" y1="161.2" x2="247.6" y2="164.4" stroke="#6060dd" stroke-width="0.8" stroke-linecap="round"/>
<line x1="247.6" y1="164.4" x2="245.3" y2="167.6" stroke="#6060dd" stroke-width="0.8" stroke-linecap="round"/>
<line x1="245.3" y1="167.6" x2="243.0" y2="170.8" stroke="#666666" stroke-width="0.8" stroke-linecap="round"/>
<line x1="243.0" y1="170.8" x2="237.8" y2="170.8" stroke="#666666" stroke-width="0.8" stroke-linecap="round"/>
<line x1="237.8" y1="170.8" x2="232.7" y2="170.8" stroke="#6060dd" stroke-width="0.8" stroke-linecap="round"/>
<line x1="232.7" y1="170.8" x2="230.3" y2="167.6" stroke="#6060dd" stroke-width="0.8" stroke-linecap="round"/>
<line x1="230.3" y1="167.6" x2="228.0" y2="164.4" stroke="#666666" stroke-width="0.8" stroke-linecap="round"/>
<line x1="235.3" y1="159.7" x2="240.8" y2="159.7" stroke="#666666" stroke-width="0.8" stroke-linecap="round"/>
<line x1="240.8" y1="169.2" x2="234.9" y2="169.2" stroke="#666666" stroke-width="0.8" stroke-linecap="round"/>
<line x1="242.6" y1="171.1" x2="244.9" y2="174.2" stroke="#666666" stroke-width="0.8" stroke-linecap="round"/>
<line x1="244.9" y1="174.2" x2="247.2" y2="177.4" stroke="#e48088" stroke-width="0.8" stroke-linecap="round"/>
<line x1="243.4" y1="170.5" x2="245.7" y2="173.7" stroke="#666666" stroke-width="0.8" stroke-linecap="round"/>
<line x1="245.7" y1="173.7" x2="248.0" y2="176.8" stroke="#e48088" stroke-width="0.8" stroke-linecap="round"/>
<line x1="247.6" y1="164.4" x2="252.8" y2="164.4" stroke="#6060dd" stroke-width="0.8" stroke-linecap="round"/>
<line x1="252.8" y1="164.4" x2="258.0" y2="164.4" stroke="#666666" stroke-width="0.8" stroke-linecap="round"/>
<line x1="258.0" y1="164.4" x2="263.8" y2="159.2" stroke="#666666" stroke-width="0.8" stroke-linecap="round"/>
<line x1="263.8" y1="159.2" x2="273.0" y2="161.0" stroke="#666666" stroke-width="0.8" stroke-linecap="round"/>
<line x1="273.0" y1="161.0" x2="273.6" y2="168.5" stroke="#666666" stroke-width="0.8" stroke-linecap="round"/>
<line x1="273.6" y1="168.5" x2="268.7" y2="169.7" stroke="#666666" stroke-width="0.8" stroke-linecap="round"/>
<line x1="268.7" y1="169.7" x2="263.8" y2="170.8" stroke="#e48088" stroke-width="0.8" stroke-linecap="round"/>
<line x1="263.8" y1="170.8" x2="260.9" y2="167.6" stroke="#e48088" stroke-width="0.8" stroke-linecap="round"/>
<line x1="260.9" y1="167.6" x2="258.0" y2="164.4" stroke="#666666" stroke-width="0.8" stroke-linecap="round"/>
<line x1="280.0" y1="165.3" x2="306.3" y2="165.3" stroke="#555" stroke-width="0.85" stroke-linecap="round"/>
<path d="M307.3,165.3 L305.1,164.3 L305.1,166.3 Z" fill="#555"/>
<line x1="325.6" y1="161.0" x2="321.6" y2="161.6" stroke="#e48088" stroke-width="0.8" stroke-linecap="round"/>
<line x1="321.6" y1="161.6" x2="317.5" y2="162.1" stroke="#666666" stroke-width="0.8" stroke-linecap="round"/>
<line x1="317.5" y1="162.1" x2="317.5" y2="170.2" stroke="#666666" stroke-width="0.8" stroke-linecap="round"/>
<line x1="317.5" y1="170.2" x2="326.7" y2="171.9" stroke="#666666" stroke-width="0.8" stroke-linecap="round"/>
<line x1="326.7" y1="171.9" x2="332.5" y2="166.1" stroke="#666666" stroke-width="0.8" stroke-linecap="round"/>
<line x1="332.5" y1="166.1" x2="329.1" y2="163.6" stroke="#666666" stroke-width="0.8" stroke-linecap="round"/>
<line x1="329.1" y1="163.6" x2="325.6" y2="161.0" stroke="#e48088" stroke-width="0.8" stroke-linecap="round"/>
<line x1="332.5" y1="166.1" x2="337.9" y2="166.3" stroke="#666666" stroke-width="0.8" stroke-linecap="round"/>
<line x1="337.9" y1="166.3" x2="343.3" y2="166.5" stroke="#6060dd" stroke-width="0.8" stroke-linecap="round"/>
<line x1="343.3" y1="166.5" x2="345.6" y2="163.3" stroke="#6060dd" stroke-width="0.8" stroke-linecap="round"/>
<line x1="345.6" y1="163.3" x2="347.9" y2="160.1" stroke="#666666" stroke-width="0.8" stroke-linecap="round"/>
<line x1="347.9" y1="160.1" x2="353.6" y2="160.1" stroke="#666666" stroke-width="0.8" stroke-linecap="round"/>
<line x1="353.6" y1="160.1" x2="359.4" y2="160.1" stroke="#6060dd" stroke-width="0.8" stroke-linecap="round"/>
<line x1="359.4" y1="160.1" x2="361.8" y2="163.3" stroke="#6060dd" stroke-width="0.8" stroke-linecap="round"/>
<line x1="361.8" y1="163.3" x2="364.1" y2="166.5" stroke="#666666" stroke-width="0.8" stroke-linecap="round"/>
<line x1="364.1" y1="166.5" x2="358.3" y2="172.2" stroke="#666666" stroke-width="0.8" stroke-linecap="round"/>
<line x1="358.3" y1="172.2" x2="347.9" y2="172.2" stroke="#666666" stroke-width="0.8" stroke-linecap="round"/>
<line x1="347.9" y1="172.2" x2="345.6" y2="169.3" stroke="#666666" stroke-width="0.8" stroke-linecap="round"/>
<line x1="345.6" y1="169.3" x2="343.3" y2="166.5" stroke="#6060dd" stroke-width="0.8" stroke-linecap="round"/>
<line x1="360.9" y1="167.0" x2="357.6" y2="170.2" stroke="#666666" stroke-width="0.8" stroke-linecap="round"/>
<line x1="348.3" y1="159.8" x2="345.7" y2="156.9" stroke="#666666" stroke-width="0.8" stroke-linecap="round"/>
<line x1="345.7" y1="156.9" x2="343.1" y2="154.0" stroke="#e48088" stroke-width="0.8" stroke-linecap="round"/>
<line x1="347.5" y1="160.4" x2="344.9" y2="157.5" stroke="#666666" stroke-width="0.8" stroke-linecap="round"/>
<line x1="344.9" y1="157.5" x2="342.3" y2="154.6" stroke="#e48088" stroke-width="0.8" stroke-linecap="round"/>
<line x1="364.1" y1="167.0" x2="369.0" y2="167.0" stroke="#666666" stroke-width="0.8" stroke-linecap="round"/>
<line x1="369.0" y1="167.0" x2="373.9" y2="167.0" stroke="#e48088" stroke-width="0.8" stroke-linecap="round"/>
<line x1="364.1" y1="166.0" x2="369.0" y2="166.0" stroke="#666666" stroke-width="0.8" stroke-linecap="round"/>
<line x1="369.0" y1="166.0" x2="373.9" y2="166.0" stroke="#e48088" stroke-width="0.8" stroke-linecap="round"/>
<line x1="228.5" y1="215.2" x2="237.1" y2="203.6" stroke="#6a6a6a" stroke-width="1.0" stroke-linecap="round"/>
<line x1="237.1" y1="203.6" x2="253.1" y2="203.6" stroke="#6a6a6a" stroke-width="1.0" stroke-linecap="round"/>
<line x1="253.1" y1="203.6" x2="261.7" y2="215.2" stroke="#6a6a6a" stroke-width="1.0" stroke-linecap="round"/>
<line x1="261.7" y1="215.2" x2="253.1" y2="226.5" stroke="#6a6a6a" stroke-width="1.0" stroke-linecap="round"/>
<line x1="253.1" y1="226.5" x2="237.1" y2="226.5" stroke="#6a6a6a" stroke-width="1.0" stroke-linecap="round"/>
<line x1="237.1" y1="226.5" x2="228.5" y2="215.2" stroke="#6a6a6a" stroke-width="1.0" stroke-linecap="round"/>
<line x1="240.0" y1="206.4" x2="250.6" y2="206.4" stroke="#6a6a6a" stroke-width="1.0" stroke-linecap="round"/>
<line x1="257.6" y1="215.6" x2="251.9" y2="223.0" stroke="#6a6a6a" stroke-width="1.0" stroke-linecap="round"/>
<line x1="272.3" y1="215.2" x2="315.8" y2="215.2" stroke="#555" stroke-width="0.85" stroke-linecap="round"/>
<path d="M316.8,215.2 L314.6,214.2 L314.6,216.2 Z" fill="#555"/>
<line x1="332.3" y1="215.3" x2="341.0" y2="203.8" stroke="#6a6a6a" stroke-width="1.0" stroke-linecap="round"/>
<line x1="341.0" y1="203.8" x2="356.4" y2="203.8" stroke="#6a6a6a" stroke-width="1.0" stroke-linecap="round"/>
<line x1="356.4" y1="203.8" x2="365.5" y2="215.3" stroke="#6a6a6a" stroke-width="1.0" stroke-linecap="round"/>
<line x1="365.5" y1="215.3" x2="356.4" y2="226.4" stroke="#6a6a6a" stroke-width="1.0" stroke-linecap="round"/>
<line x1="356.4" y1="226.4" x2="341.0" y2="226.4" stroke="#6a6a6a" stroke-width="1.0" stroke-linecap="round"/>
<line x1="341.0" y1="226.4" x2="332.3" y2="215.3" stroke="#6a6a6a" stroke-width="1.0" stroke-linecap="round"/>
<path d="M336.2,215.3 L342.9,206.5 L354.9,206.5 L361.7,215.3 L354.9,224 L342.9,224 Z" fill="none" stroke="#585858" stroke-width="0.85" stroke-dasharray="1.1,0.8"/>
<line x1="235.5" y1="258.4" x2="231.5" y2="259.2" stroke="#e48088" stroke-width="0.8" stroke-linecap="round"/>
<line x1="231.5" y1="259.2" x2="227.5" y2="260.1" stroke="#666666" stroke-width="0.8" stroke-linecap="round"/>
<line x1="227.5" y1="260.1" x2="227.5" y2="268.8" stroke="#666666" stroke-width="0.8" stroke-linecap="round"/>
<line x1="227.5" y1="268.8" x2="236.1" y2="271.1" stroke="#666666" stroke-width="0.8" stroke-linecap="round"/>
<line x1="236.1" y1="271.1" x2="241.9" y2="264.7" stroke="#666666" stroke-width="0.8" stroke-linecap="round"/>
<line x1="241.9" y1="264.7" x2="238.7" y2="261.5" stroke="#666666" stroke-width="0.8" stroke-linecap="round"/>
<line x1="238.7" y1="261.5" x2="235.5" y2="258.4" stroke="#e48088" stroke-width="0.8" stroke-linecap="round"/>
<line x1="241.9" y1="264.7" x2="245.9" y2="264.7" stroke="#666666" stroke-width="0.8" stroke-linecap="round"/>
<line x1="245.9" y1="264.7" x2="250.0" y2="264.7" stroke="#6060dd" stroke-width="0.8" stroke-linecap="round"/>
<line x1="250.0" y1="264.7" x2="252.6" y2="260.9" stroke="#6060dd" stroke-width="0.8" stroke-linecap="round"/>
<line x1="252.6" y1="260.9" x2="255.1" y2="257.2" stroke="#666666" stroke-width="0.8" stroke-linecap="round"/>
<line x1="255.1" y1="257.2" x2="260.3" y2="257.2" stroke="#666666" stroke-width="0.8" stroke-linecap="round"/>
<line x1="260.3" y1="257.2" x2="265.5" y2="257.2" stroke="#6060dd" stroke-width="0.8" stroke-linecap="round"/>
<line x1="265.5" y1="257.2" x2="267.8" y2="260.9" stroke="#6060dd" stroke-width="0.8" stroke-linecap="round"/>
<line x1="267.8" y1="260.9" x2="270.1" y2="264.7" stroke="#666666" stroke-width="0.8" stroke-linecap="round"/>
<line x1="270.1" y1="264.7" x2="264.9" y2="272.2" stroke="#666666" stroke-width="0.8" stroke-linecap="round"/>
<line x1="264.9" y1="272.2" x2="255.1" y2="272.2" stroke="#666666" stroke-width="0.8" stroke-linecap="round"/>
<line x1="255.1" y1="272.2" x2="252.6" y2="268.4" stroke="#666666" stroke-width="0.8" stroke-linecap="round"/>
<line x1="252.6" y1="268.4" x2="250.0" y2="264.7" stroke="#6060dd" stroke-width="0.8" stroke-linecap="round"/>
<line x1="262.8" y1="270.3" x2="257.2" y2="270.3" stroke="#666666" stroke-width="0.8" stroke-linecap="round"/>
<line x1="255.5" y1="256.9" x2="253.5" y2="253.7" stroke="#666666" stroke-width="0.8" stroke-linecap="round"/>
<line x1="253.5" y1="253.7" x2="251.5" y2="250.5" stroke="#e48088" stroke-width="0.8" stroke-linecap="round"/>
<line x1="254.7" y1="257.5" x2="252.7" y2="254.3" stroke="#666666" stroke-width="0.8" stroke-linecap="round"/>
<line x1="252.7" y1="254.3" x2="250.7" y2="251.1" stroke="#e48088" stroke-width="0.8" stroke-linecap="round"/>
<line x1="270.1" y1="265.2" x2="274.8" y2="265.2" stroke="#666666" stroke-width="0.8" stroke-linecap="round"/>
<line x1="274.8" y1="265.2" x2="279.4" y2="265.2" stroke="#e48088" stroke-width="0.8" stroke-linecap="round"/>
<line x1="270.1" y1="264.2" x2="274.8" y2="264.2" stroke="#666666" stroke-width="0.8" stroke-linecap="round"/>
<line x1="274.8" y1="264.2" x2="279.4" y2="264.2" stroke="#e48088" stroke-width="0.8" stroke-linecap="round"/>
<line x1="285.2" y1="261.0" x2="309.2" y2="261.0" stroke="#555" stroke-width="0.85" stroke-linecap="round"/>
<path d="M310.2,261.0 L308.0,260.0 L308.0,262.0 Z" fill="#555"/>
<line x1="327.3" y1="257.8" x2="323.3" y2="259.0" stroke="#e48088" stroke-width="0.8" stroke-linecap="round"/>
<line x1="323.3" y1="259.0" x2="319.3" y2="260.1" stroke="#666666" stroke-width="0.8" stroke-linecap="round"/>
<line x1="319.3" y1="260.1" x2="319.3" y2="268.8" stroke="#666666" stroke-width="0.8" stroke-linecap="round"/>
<line x1="319.3" y1="268.8" x2="327.9" y2="271.1" stroke="#666666" stroke-width="0.8" stroke-linecap="round"/>
<line x1="327.9" y1="271.1" x2="333.7" y2="264.1" stroke="#666666" stroke-width="0.8" stroke-linecap="round"/>
<line x1="333.7" y1="264.1" x2="330.5" y2="261.0" stroke="#666666" stroke-width="0.8" stroke-linecap="round"/>
<line x1="330.5" y1="261.0" x2="327.3" y2="257.8" stroke="#e48088" stroke-width="0.8" stroke-linecap="round"/>
<line x1="333.7" y1="264.1" x2="343.3" y2="264.8" stroke="#666666" stroke-width="0.8" stroke-linecap="round"/>
<line x1="343.3" y1="264.8" x2="347.9" y2="257.8" stroke="#666666" stroke-width="0.8" stroke-linecap="round"/>
<line x1="347.9" y1="257.8" x2="353.4" y2="257.8" stroke="#666666" stroke-width="0.8" stroke-linecap="round"/>
<line x1="353.4" y1="257.8" x2="358.9" y2="257.8" stroke="#6060dd" stroke-width="0.8" stroke-linecap="round"/>
<line x1="358.9" y1="257.8" x2="360.4" y2="261.3" stroke="#6060dd" stroke-width="0.8" stroke-linecap="round"/>
<line x1="360.4" y1="261.3" x2="361.8" y2="264.8" stroke="#666666" stroke-width="0.8" stroke-linecap="round"/>
<line x1="361.8" y1="264.8" x2="360.4" y2="268.2" stroke="#666666" stroke-width="0.8" stroke-linecap="round"/>
<line x1="360.4" y1="268.2" x2="358.9" y2="271.7" stroke="#6060dd" stroke-width="0.8" stroke-linecap="round"/>
<line x1="358.9" y1="271.7" x2="353.4" y2="271.7" stroke="#6060dd" stroke-width="0.8" stroke-linecap="round"/>
<line x1="353.4" y1="271.7" x2="347.9" y2="271.7" stroke="#666666" stroke-width="0.8" stroke-linecap="round"/>
<line x1="347.9" y1="271.7" x2="343.3" y2="264.8" stroke="#666666" stroke-width="0.8" stroke-linecap="round"/>
<line x1="346.2" y1="265.4" x2="348.8" y2="269.3" stroke="#666666" stroke-width="0.8" stroke-linecap="round"/>
<line x1="359.4" y1="265.4" x2="357.7" y2="269.3" stroke="#666666" stroke-width="0.8" stroke-linecap="round"/>
<line x1="348.3" y1="257.5" x2="345.7" y2="254.0" stroke="#666666" stroke-width="0.8" stroke-linecap="round"/>
<line x1="345.7" y1="254.0" x2="343.1" y2="250.5" stroke="#e48088" stroke-width="0.8" stroke-linecap="round"/>
<line x1="347.5" y1="258.1" x2="344.9" y2="254.6" stroke="#666666" stroke-width="0.8" stroke-linecap="round"/>
<line x1="344.9" y1="254.6" x2="342.3" y2="251.1" stroke="#e48088" stroke-width="0.8" stroke-linecap="round"/>
<line x1="361.8" y1="265.3" x2="366.7" y2="265.3" stroke="#666666" stroke-width="0.8" stroke-linecap="round"/>
<line x1="366.7" y1="265.3" x2="371.6" y2="265.3" stroke="#e48088" stroke-width="0.8" stroke-linecap="round"/>
<line x1="361.8" y1="264.3" x2="366.7" y2="264.3" stroke="#666666" stroke-width="0.8" stroke-linecap="round"/>
<line x1="366.7" y1="264.3" x2="371.6" y2="264.3" stroke="#e48088" stroke-width="0.8" stroke-linecap="round"/>
<line x1="231.1" y1="304.7" x2="234.1" y2="299.3" stroke="#666666" stroke-width="0.9" stroke-linecap="round"/>
<line x1="234.1" y1="299.3" x2="241.1" y2="299.3" stroke="#666666" stroke-width="0.9" stroke-linecap="round"/>
<line x1="241.1" y1="299.3" x2="244.0" y2="304.7" stroke="#666666" stroke-width="0.9" stroke-linecap="round"/>
<line x1="244.0" y1="304.7" x2="241.1" y2="310.1" stroke="#666666" stroke-width="0.9" stroke-linecap="round"/>
<line x1="241.1" y1="310.1" x2="234.1" y2="310.1" stroke="#666666" stroke-width="0.9" stroke-linecap="round"/>
<line x1="234.1" y1="310.1" x2="231.1" y2="304.7" stroke="#666666" stroke-width="0.9" stroke-linecap="round"/>
<path d="M232.9,304.7 L235.1,300.8 L240.1,300.8 L242.2,304.7 L240.1,308.6 L235.1,308.6 Z" fill="none" stroke="#666" stroke-width="0.8" stroke-dasharray="0.9,0.7"/>
<line x1="247.4" y1="306.0" x2="262.8" y2="306.0" stroke="#555" stroke-width="1.2" stroke-linecap="round"/>
<line x1="274.4" y1="292.6" x2="279.0" y2="295.7" stroke="#666666" stroke-width="0.8" stroke-linecap="round"/>
<line x1="279.0" y1="295.7" x2="278.2" y2="301.5" stroke="#666666" stroke-width="0.8" stroke-linecap="round"/>
<line x1="278.2" y1="301.5" x2="274.0" y2="304.2" stroke="#666666" stroke-width="0.8" stroke-linecap="round"/>
<line x1="274.0" y1="304.2" x2="269.0" y2="301.5" stroke="#666666" stroke-width="0.8" stroke-linecap="round"/>
<line x1="269.0" y1="301.5" x2="268.6" y2="295.7" stroke="#666666" stroke-width="0.8" stroke-linecap="round"/>
<line x1="268.6" y1="295.7" x2="274.4" y2="292.6" stroke="#666666" stroke-width="0.8" stroke-linecap="round"/>
<line x1="274.6" y1="294.8" x2="277.0" y2="296.4" stroke="#666666" stroke-width="0.8" stroke-linecap="round"/>
<line x1="276.5" y1="300.8" x2="274.3" y2="302.2" stroke="#666666" stroke-width="0.8" stroke-linecap="round"/>
<line x1="270.5" y1="300.1" x2="270.3" y2="297.1" stroke="#666666" stroke-width="0.8" stroke-linecap="round"/>
<line x1="278.2" y1="301.5" x2="283.6" y2="305.7" stroke="#666666" stroke-width="0.8" stroke-linecap="round"/>
<line x1="283.1" y1="305.6" x2="282.6" y2="308.4" stroke="#666666" stroke-width="0.8" stroke-linecap="round"/>
<line x1="282.6" y1="308.4" x2="282.0" y2="311.2" stroke="#e48088" stroke-width="0.8" stroke-linecap="round"/>
<line x1="284.1" y1="305.8" x2="283.5" y2="308.6" stroke="#666666" stroke-width="0.8" stroke-linecap="round"/>
<line x1="283.5" y1="308.6" x2="283.0" y2="311.4" stroke="#e48088" stroke-width="0.8" stroke-linecap="round"/>
<line x1="283.6" y1="305.7" x2="285.7" y2="304.8" stroke="#666666" stroke-width="0.8" stroke-linecap="round"/>
<line x1="285.7" y1="304.8" x2="287.8" y2="303.8" stroke="#c8c030" stroke-width="0.8" stroke-linecap="round"/>
<line x1="287.8" y1="303.8" x2="290.5" y2="305.1" stroke="#c8c030" stroke-width="0.8" stroke-linecap="round"/>
<line x1="290.5" y1="305.1" x2="293.2" y2="306.5" stroke="#666666" stroke-width="0.8" stroke-linecap="round"/>
<line x1="293.2" y1="306.5" x2="298.6" y2="304.2" stroke="#666666" stroke-width="0.8" stroke-linecap="round"/>
<line x1="298.6" y1="304.2" x2="300.7" y2="306.0" stroke="#666666" stroke-width="0.8" stroke-linecap="round"/>
<line x1="300.7" y1="306.0" x2="302.8" y2="307.8" stroke="#6060dd" stroke-width="0.8" stroke-linecap="round"/>
<line x1="302.8" y1="307.8" x2="305.7" y2="306.6" stroke="#6060dd" stroke-width="0.8" stroke-linecap="round"/>
<line x1="305.7" y1="306.6" x2="308.6" y2="305.4" stroke="#666666" stroke-width="0.8" stroke-linecap="round"/>
<line x1="308.6" y1="305.4" x2="313.9" y2="308.8" stroke="#666666" stroke-width="0.8" stroke-linecap="round"/>
<line x1="313.9" y1="308.8" x2="319.2" y2="306.8" stroke="#666666" stroke-width="0.8" stroke-linecap="round"/>
<line x1="319.2" y1="306.8" x2="321.4" y2="308.5" stroke="#666666" stroke-width="0.8" stroke-linecap="round"/>
<line x1="321.4" y1="308.5" x2="323.5" y2="310.2" stroke="#6060dd" stroke-width="0.8" stroke-linecap="round"/>
<line x1="323.5" y1="310.2" x2="326.1" y2="309.0" stroke="#6060dd" stroke-width="0.8" stroke-linecap="round"/>
<line x1="326.1" y1="309.0" x2="328.8" y2="307.8" stroke="#666666" stroke-width="0.8" stroke-linecap="round"/>
<line x1="328.8" y1="307.8" x2="334.1" y2="311.2" stroke="#666666" stroke-width="0.8" stroke-linecap="round"/>
<line x1="334.1" y1="311.2" x2="339.8" y2="309.2" stroke="#666666" stroke-width="0.8" stroke-linecap="round"/>
<line x1="339.8" y1="309.2" x2="344.2" y2="312.1" stroke="#666666" stroke-width="0.8" stroke-linecap="round"/>
<line x1="344.2" y1="312.1" x2="346.6" y2="311.4" stroke="#666666" stroke-width="0.8" stroke-linecap="round"/>
<line x1="346.6" y1="311.4" x2="349.1" y2="310.6" stroke="#e48088" stroke-width="0.8" stroke-linecap="round"/>
<line x1="349.1" y1="310.6" x2="351.1" y2="311.8" stroke="#e48088" stroke-width="0.8" stroke-linecap="round"/>
<line x1="351.1" y1="311.8" x2="353.0" y2="313.0" stroke="#ee9a6a" stroke-width="0.8" stroke-linecap="round"/>
<line x1="353.0" y1="313.0" x2="355.1" y2="312.3" stroke="#ee9a6a" stroke-width="0.8" stroke-linecap="round"/>
<line x1="355.1" y1="312.3" x2="357.3" y2="311.6" stroke="#e48088" stroke-width="0.8" stroke-linecap="round"/>
<line x1="357.3" y1="311.6" x2="358.5" y2="308.7" stroke="#e48088" stroke-width="0.8" stroke-linecap="round"/>
<line x1="358.5" y1="308.7" x2="359.7" y2="305.8" stroke="#ee9a6a" stroke-width="0.8" stroke-linecap="round"/>
<line x1="359.7" y1="305.8" x2="361.9" y2="304.6" stroke="#ee9a6a" stroke-width="0.8" stroke-linecap="round"/>
<line x1="361.9" y1="304.6" x2="364.0" y2="303.4" stroke="#e48088" stroke-width="0.8" stroke-linecap="round"/>
<line x1="364.0" y1="303.4" x2="366.9" y2="304.9" stroke="#e48088" stroke-width="0.8" stroke-linecap="round"/>
<line x1="366.9" y1="304.9" x2="369.8" y2="306.3" stroke="#666666" stroke-width="0.8" stroke-linecap="round"/>
<line x1="369.8" y1="306.3" x2="375.1" y2="304.8" stroke="#666666" stroke-width="0.8" stroke-linecap="round"/>
<line x1="309.1" y1="305.4" x2="309.1" y2="302.9" stroke="#666666" stroke-width="0.8" stroke-linecap="round"/>
<line x1="309.1" y1="302.9" x2="309.1" y2="300.4" stroke="#e48088" stroke-width="0.8" stroke-linecap="round"/>
<line x1="308.1" y1="305.4" x2="308.1" y2="302.9" stroke="#666666" stroke-width="0.8" stroke-linecap="round"/>
<line x1="308.1" y1="302.9" x2="308.1" y2="300.4" stroke="#e48088" stroke-width="0.8" stroke-linecap="round"/>
<line x1="329.3" y1="307.8" x2="329.3" y2="305.1" stroke="#666666" stroke-width="0.8" stroke-linecap="round"/>
<line x1="329.3" y1="305.1" x2="329.3" y2="302.3" stroke="#e48088" stroke-width="0.8" stroke-linecap="round"/>
<line x1="328.3" y1="307.8" x2="328.3" y2="305.1" stroke="#666666" stroke-width="0.8" stroke-linecap="round"/>
<line x1="328.3" y1="305.1" x2="328.3" y2="302.3" stroke="#e48088" stroke-width="0.8" stroke-linecap="round"/>
<line x1="352.5" y1="313.1" x2="352.8" y2="315.1" stroke="#ee9a6a" stroke-width="0.8" stroke-linecap="round"/>
<line x1="352.8" y1="315.1" x2="353.0" y2="317.1" stroke="#e48088" stroke-width="0.8" stroke-linecap="round"/>
<line x1="353.5" y1="312.9" x2="353.7" y2="314.9" stroke="#ee9a6a" stroke-width="0.8" stroke-linecap="round"/>
<line x1="353.7" y1="314.9" x2="354.0" y2="316.9" stroke="#e48088" stroke-width="0.8" stroke-linecap="round"/>
<line x1="360.0" y1="305.4" x2="358.1" y2="303.7" stroke="#ee9a6a" stroke-width="0.8" stroke-linecap="round"/>
<line x1="358.1" y1="303.7" x2="356.2" y2="302.0" stroke="#e48088" stroke-width="0.8" stroke-linecap="round"/>
<line x1="359.4" y1="306.2" x2="357.5" y2="304.5" stroke="#ee9a6a" stroke-width="0.8" stroke-linecap="round"/>
<line x1="357.5" y1="304.5" x2="355.6" y2="302.8" stroke="#e48088" stroke-width="0.8" stroke-linecap="round"/>
<line x1="375.1" y1="304.8" x2="376.5" y2="298.6" stroke="#666666" stroke-width="0.8" stroke-linecap="round"/>
<line x1="376.5" y1="298.6" x2="382.3" y2="298.1" stroke="#666666" stroke-width="0.8" stroke-linecap="round"/>
<line x1="382.3" y1="298.1" x2="384.7" y2="303.4" stroke="#666666" stroke-width="0.8" stroke-linecap="round"/>
<line x1="384.7" y1="303.4" x2="382.3" y2="305.3" stroke="#666666" stroke-width="0.8" stroke-linecap="round"/>
<line x1="382.3" y1="305.3" x2="379.9" y2="307.2" stroke="#e48088" stroke-width="0.8" stroke-linecap="round"/>
<line x1="379.9" y1="307.2" x2="377.5" y2="306.0" stroke="#e48088" stroke-width="0.8" stroke-linecap="round"/>
<line x1="377.5" y1="306.0" x2="375.1" y2="304.8" stroke="#666666" stroke-width="0.8" stroke-linecap="round"/>
<line x1="384.7" y1="303.4" x2="387.5" y2="303.9" stroke="#666666" stroke-width="0.8" stroke-linecap="round"/>
<line x1="387.5" y1="303.9" x2="390.4" y2="304.5" stroke="#6060dd" stroke-width="0.8" stroke-linecap="round"/>
<line x1="395.0" y1="302.1" x2="395.3" y2="299.0" stroke="#55558a" stroke-width="0.95" stroke-linecap="round"/>
<line x1="395.3" y1="299.0" x2="395.6" y2="295.8" stroke="#4f4fc4" stroke-width="0.95" stroke-linecap="round"/>
<line x1="395.6" y1="295.8" x2="397.9" y2="294.4" stroke="#4f4fc4" stroke-width="0.95" stroke-linecap="round"/>
<line x1="397.9" y1="294.4" x2="400.2" y2="292.9" stroke="#55558a" stroke-width="0.95" stroke-linecap="round"/>
<line x1="400.2" y1="292.9" x2="402.5" y2="294.4" stroke="#55558a" stroke-width="0.95" stroke-linecap="round"/>
<line x1="402.5" y1="294.4" x2="404.8" y2="295.8" stroke="#4f4fc4" stroke-width="0.95" stroke-linecap="round"/>
<line x1="404.8" y1="295.8" x2="404.8" y2="298.1" stroke="#4f4fc4" stroke-width="0.95" stroke-linecap="round"/>
<line x1="404.8" y1="298.1" x2="404.8" y2="300.4" stroke="#55558a" stroke-width="0.95" stroke-linecap="round"/>
<line x1="404.8" y1="300.4" x2="400.2" y2="303.3" stroke="#55558a" stroke-width="0.95" stroke-linecap="round"/>
<line x1="400.2" y1="303.3" x2="395.0" y2="302.1" stroke="#55558a" stroke-width="0.95" stroke-linecap="round"/>
<line x1="397.3" y1="296.3" x2="399.8" y2="294.8" stroke="#4f4fc4" stroke-width="0.8" stroke-linecap="round"/>
<line x1="403.4" y1="297.0" x2="403.4" y2="299.4" stroke="#4f4fc4" stroke-width="0.8" stroke-linecap="round"/>
<line x1="390.4" y1="304.5" x2="391.5" y2="307.1" stroke="#4f4fc4" stroke-width="0.95" stroke-linecap="round"/>
<line x1="391.5" y1="307.1" x2="392.7" y2="309.6" stroke="#55558a" stroke-width="0.95" stroke-linecap="round"/>
<line x1="392.7" y1="309.6" x2="395.6" y2="309.6" stroke="#55558a" stroke-width="0.95" stroke-linecap="round"/>
<line x1="395.6" y1="309.6" x2="398.5" y2="309.6" stroke="#4f4fc4" stroke-width="0.95" stroke-linecap="round"/>
<line x1="398.5" y1="309.6" x2="399.4" y2="306.5" stroke="#4f4fc4" stroke-width="0.95" stroke-linecap="round"/>
<line x1="399.4" y1="306.5" x2="400.2" y2="303.3" stroke="#55558a" stroke-width="0.95" stroke-linecap="round"/>
<line x1="400.2" y1="303.3" x2="395.0" y2="302.1" stroke="#55558a" stroke-width="0.95" stroke-linecap="round"/>
<line x1="395.0" y1="302.1" x2="392.7" y2="303.3" stroke="#55558a" stroke-width="0.95" stroke-linecap="round"/>
<line x1="392.7" y1="303.3" x2="390.4" y2="304.5" stroke="#4f4fc4" stroke-width="0.95" stroke-linecap="round"/>
<line x1="231.0" y1="348.2" x2="237.9" y2="337.4" stroke="#6a6a6a" stroke-width="1.0" stroke-linecap="round"/>
<line x1="237.9" y1="337.4" x2="251.4" y2="337.4" stroke="#6a6a6a" stroke-width="1.0" stroke-linecap="round"/>
<line x1="251.4" y1="337.4" x2="258.3" y2="348.2" stroke="#6a6a6a" stroke-width="1.0" stroke-linecap="round"/>
<line x1="258.3" y1="348.2" x2="251.4" y2="359.3" stroke="#6a6a6a" stroke-width="1.0" stroke-linecap="round"/>
<line x1="251.4" y1="359.3" x2="237.9" y2="359.3" stroke="#6a6a6a" stroke-width="1.0" stroke-linecap="round"/>
<line x1="237.9" y1="359.3" x2="231.0" y2="348.2" stroke="#6a6a6a" stroke-width="1.0" stroke-linecap="round"/>
<path d="M234.5,348.2 L239.1,339.7 L250.6,339.7 L254.5,348.2 L250.6,356.6 L239.1,356.6 Z" fill="none" stroke="#585858" stroke-width="0.85" stroke-dasharray="1.1,0.8"/>
<line x1="266.9" y1="348.5" x2="301.3" y2="348.5" stroke="#555" stroke-width="0.85" stroke-linecap="round"/>
<path d="M302.3,348.5 L300.1,347.5 L300.1,349.5 Z" fill="#555"/>
<line x1="328.5" y1="348.1" x2="334.8" y2="337.2" stroke="#6a6a6a" stroke-width="1.0" stroke-linecap="round"/>
<line x1="334.8" y1="337.2" x2="348.1" y2="337.2" stroke="#6a6a6a" stroke-width="1.0" stroke-linecap="round"/>
<line x1="348.1" y1="337.2" x2="354.4" y2="348.1" stroke="#6a6a6a" stroke-width="1.0" stroke-linecap="round"/>
<line x1="354.4" y1="348.1" x2="348.1" y2="359.1" stroke="#6a6a6a" stroke-width="1.0" stroke-linecap="round"/>
<line x1="348.1" y1="359.1" x2="334.8" y2="359.1" stroke="#6a6a6a" stroke-width="1.0" stroke-linecap="round"/>
<line x1="334.8" y1="359.1" x2="328.5" y2="348.1" stroke="#6a6a6a" stroke-width="1.0" stroke-linecap="round"/>
<line x1="337.1" y1="340.3" x2="345.8" y2="340.3" stroke="#6a6a6a" stroke-width="1.0" stroke-linecap="round"/>
<line x1="337.1" y1="356.2" x2="345.8" y2="356.2" stroke="#6a6a6a" stroke-width="1.0" stroke-linecap="round"/>
<line x1="328.5" y1="346.9" x2="321.2" y2="346.9" stroke="#999" stroke-width="0.6" stroke-linecap="round"/>
<line x1="321.2" y1="346.9" x2="314.0" y2="346.9" stroke="#e48088" stroke-width="0.6" stroke-linecap="round"/>
<line x1="328.5" y1="349.4" x2="321.2" y2="349.4" stroke="#999" stroke-width="0.6" stroke-linecap="round"/>
<line x1="321.2" y1="349.4" x2="314.0" y2="349.4" stroke="#e48088" stroke-width="0.6" stroke-linecap="round"/>
<line x1="354.4" y1="349.4" x2="361.5" y2="349.4" stroke="#999" stroke-width="0.6" stroke-linecap="round"/>
<line x1="361.5" y1="349.4" x2="368.6" y2="349.4" stroke="#e48088" stroke-width="0.6" stroke-linecap="round"/>
<line x1="354.4" y1="346.9" x2="361.5" y2="346.9" stroke="#999" stroke-width="0.6" stroke-linecap="round"/>
<line x1="361.5" y1="346.9" x2="368.6" y2="346.9" stroke="#e48088" stroke-width="0.6" stroke-linecap="round"/>
<g transform="translate(398.57,70) skewX(-7)"><text x="0" y="0" font-style="italic" font-size="10.5" textLength="26.0" lengthAdjust="spacingAndGlyphs" fill="#3c3c3c">(860)</text></g>
<g transform="translate(385.17,127) skewX(-7)"><text x="0" y="0" font-style="italic" font-size="10.5" textLength="25.0" lengthAdjust="spacingAndGlyphs" fill="#3c3c3c">(260)</text></g>
<g transform="translate(382.47,168) skewX(-7)"><text x="0" y="0" font-style="italic" font-size="10.5" textLength="15.4" lengthAdjust="spacingAndGlyphs" fill="#3c3c3c">(8)</text></g>
<g transform="translate(367.97,218) skewX(-7)"><text x="0" y="0" font-style="italic" font-size="10.5" textLength="15.2" lengthAdjust="spacingAndGlyphs" fill="#3c3c3c">(7)</text></g>
<g transform="translate(375.17,266) skewX(-7)"><text x="0" y="0" font-style="italic" font-size="10.5" textLength="20.4" lengthAdjust="spacingAndGlyphs" fill="#3c3c3c">(16)</text></g>
<g transform="translate(421.07,305) skewX(-7)"><text x="0" y="0" font-style="italic" font-size="10.5" textLength="15.0" lengthAdjust="spacingAndGlyphs" fill="#3c3c3c">(5)</text></g>
<g transform="translate(377.47,351) skewX(-7)"><text x="0" y="0" font-style="italic" font-size="10.5" textLength="14.6" lengthAdjust="spacingAndGlyphs" fill="#3c3c3c">(4)</text></g></g>
</svg></body></html>
